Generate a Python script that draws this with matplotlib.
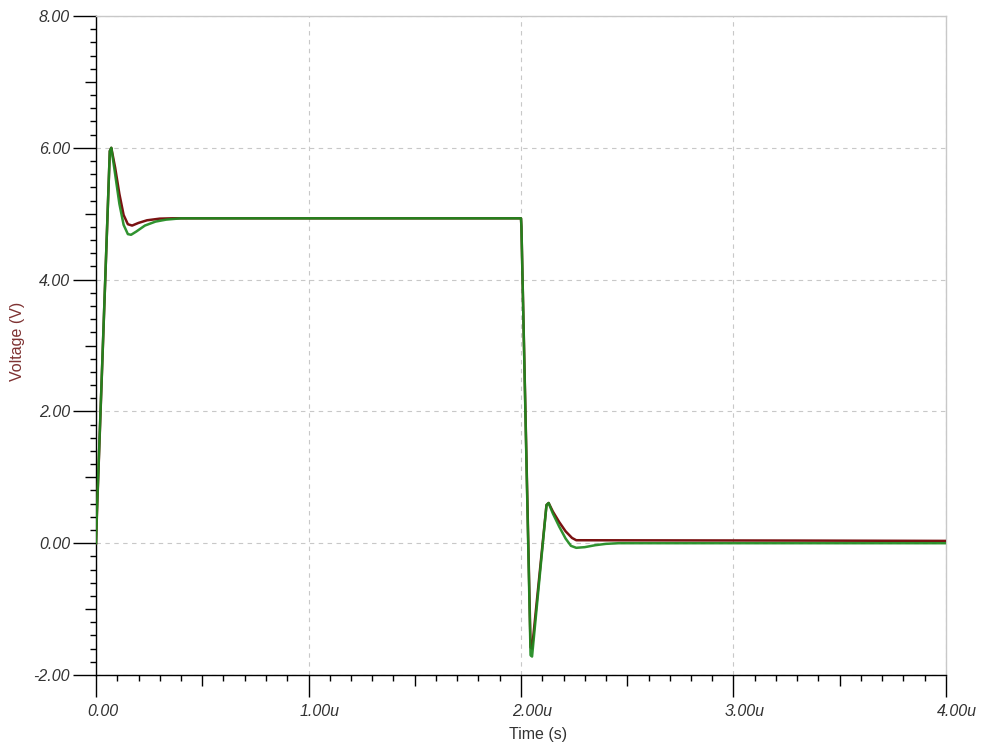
import matplotlib
matplotlib.use("Agg")
import matplotlib.pyplot as plt
from matplotlib.ticker import FixedLocator, FuncFormatter
from matplotlib.transforms import ScaledTranslation

plt.rcParams['font.family'] = ['Liberation Sans', 'DejaVu Sans']

# Transient response, time in microseconds, voltage in volts
t_red = [0.0, 0.005, 0.065, 0.072, 0.09, 0.11, 0.13, 0.15, 0.17, 0.20, 0.24,
         0.30, 0.36, 2.00, 2.002, 2.045, 2.052, 2.12, 2.13, 2.15, 2.18, 2.21,
         2.24, 2.26, 3.29, 4.00]
v_red = [0.0, 0.5, 5.95, 6.0, 5.7, 5.3, 4.98, 4.84, 4.82, 4.86, 4.90,
         4.925, 4.93, 4.93, 4.8, -1.58, -1.6, 0.58, 0.61, 0.48, 0.32, 0.18,
         0.08, 0.045, 0.04, 0.035]

t_green = [0.0, 0.004, 0.065, 0.072, 0.09, 0.11, 0.13, 0.15, 0.165, 0.19, 0.23,
           0.28, 0.33, 0.40, 2.00, 2.002, 2.045, 2.052, 2.12, 2.13, 2.15, 2.18,
           2.21, 2.235, 2.26, 2.30, 2.35, 2.40, 2.46, 4.00]
v_green = [0.0, 0.45, 5.95, 6.0, 5.6, 5.15, 4.83, 4.69, 4.68, 4.73, 4.82,
           4.88, 4.91, 4.93, 4.93, 4.8, -1.70, -1.72, 0.58, 0.61, 0.45, 0.25,
           0.07, -0.04, -0.07, -0.06, -0.03, -0.01, 0.0, 0.0]

x_major = [0, 1, 2, 3, 4]
y_major = [-2, 0, 2, 4, 6, 8]

W, H, DPI = 984, 746, 100
fig = plt.figure(figsize=(W / DPI, H / DPI), dpi=DPI)
ax = fig.add_axes([96 / W, 1 - 675 / H, (946 - 96) / W, (675 - 16) / H])

ax.plot(t_red, v_red, color='#7a1212', lw=1.8, zorder=3)
ax.plot(t_green, v_green, color='#1e8a1e', lw=1.8, alpha=0.92, zorder=4)

ax.set_xlim(0, 4)
ax.set_ylim(-2, 8)

# spines
for s in ('left', 'bottom'):
    ax.spines[s].set_color('#000000')
    ax.spines[s].set_linewidth(1.0)
for s in ('top', 'right'):
    ax.spines[s].set_color('#c8c8c8')
    ax.spines[s].set_linewidth(1.0)

lab_color = '#333333'
px = 72 / DPI  # points per pixel

# x axis ticks
ax.xaxis.set_major_locator(FixedLocator(x_major))
ax.xaxis.set_minor_locator(FixedLocator([i / 10 for i in range(41) if i % 5 != 0]))
ax.xaxis.set_major_formatter(FuncFormatter(lambda v, p: '0.00' if v == 0 else f'{v:.2f}u'))
ax.tick_params(axis='x', which='major', direction='out', length=22 * px, width=1.0,
               color='#000000', labelsize=11.5, labelcolor=lab_color, pad=7 * px)
ax.tick_params(axis='x', which='minor', direction='out', length=6 * px, width=1.0,
               color='#000000')
for lbl in ax.get_xticklabels():
    lbl.set_fontstyle('italic')
    lbl.set_horizontalalignment('left')
    lbl.set_transform(lbl.get_transform() + ScaledTranslation(-9 / DPI, 0, fig.dpi_scale_trans))

# y axis ticks
ax.yaxis.set_major_locator(FixedLocator(y_major))
ax.yaxis.set_minor_locator(FixedLocator([-2 + i * 0.2 for i in range(51) if i % 5 != 0]))
ax.yaxis.set_major_formatter(FuncFormatter(lambda v, p: f'{v:.2f}'))
ax.tick_params(axis='y', which='major', direction='out', length=23 * px, width=1.0,
               color='#000000', labelsize=11.5, labelcolor=lab_color, pad=3 * px)
ax.tick_params(axis='y', which='minor', direction='out', length=6 * px, width=1.0,
               color='#000000')
for lbl in ax.get_yticklabels():
    lbl.set_fontstyle('italic')

# intermediate ticks (half divisions)
secx = ax.secondary_xaxis('bottom')
secx.set_xticks([0.5, 1.5, 2.5, 3.5])
secx.tick_params(direction='out', length=11 * px, width=1.0, color='#000000', labelbottom=False)
secx.spines['bottom'].set_visible(False)

secy = ax.secondary_yaxis('left')
secy.set_yticks([-1, 1, 3, 5, 7])
secy.tick_params(direction='out', length=11 * px, width=1.0, color='#000000', labelleft=False)
secy.spines['left'].set_visible(False)

# grid
ax.grid(True, which='major', color='#c8c8c8', linestyle=(0, (4, 4)), linewidth=0.8)
ax.set_axisbelow(True)

fig.text(18 / W, 1 - 341 / H, 'Voltage (V)', rotation=90, ha='center', va='center',
         fontsize=11.5, color='#7e3232')
fig.text(538 / W, 1 - 734 / H, 'Time (s)', ha='center', va='center',
         fontsize=11.5, color=lab_color)

fig.savefig('out.png', dpi=DPI, facecolor='white')
